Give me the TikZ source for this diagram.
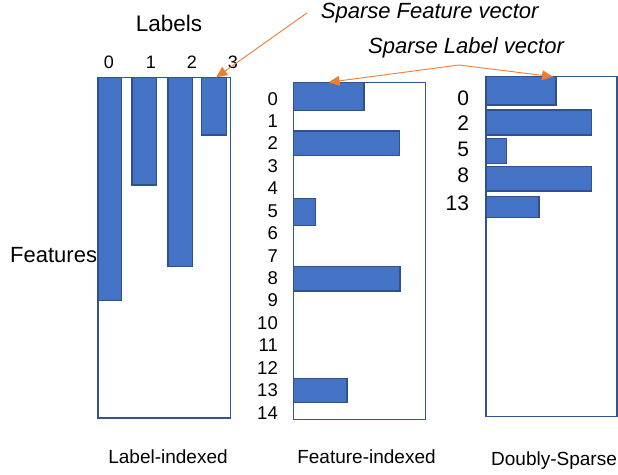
\documentclass[tikz,border=0pt]{standalone}
\usepackage{fontspec}
\setmainfont{Liberation Sans}
\usepackage{tikz}
\usetikzlibrary{arrows.meta}
\usepackage{xcolor}
\definecolor{barblue}{HTML}{4472C4}
\definecolor{baredge}{HTML}{2F528F}
\definecolor{frameblue}{HTML}{2F5597}
\definecolor{ptr}{HTML}{ED7D31}

\begin{document}
\begin{tikzpicture}[x=1pt,y=-1pt,
  bar/.style={draw=baredge,fill=barblue,line width=1.2pt,inner sep=0pt,outer sep=0pt,anchor=north west},
  frame/.style={draw=frameblue,line width=1.2pt},
  txt/.style={inner sep=0pt,anchor=base,font=\fontsize{#1}{#1}\selectfont},
  txt/.default=18,
  pointer/.style={draw=ptr,line width=0.9pt,-{Triangle[length=11pt,width=10pt]}}
  ]
\useasboundingbox (0,0) rectangle (618,474);
\def\rowh{22.43}
% the three containers
\draw[frame] (98,77.3) rectangle (230.7,418);
\draw[frame] (293.3,82.3) rectangle (425.7,419.3);
\draw[frame] (486,76.7) rectangle (617,416.7);
% bars: name/x/y/width/height
\foreach \n/\x/\y/\w/\h in {L0/98/77.3/23.3/223.4, L1/132/77.3/24.7/107.7,
    L2/168/77.3/24.3/189.4, L3/201.7/77.3/25/57.7,
    M0/293.3/82.3/70.7/28.4, M2/293.3/131/106.4/24.7, M5/293.3/198.3/22/27,
    M8/293.3/266.7/106.7/24.3, M13/293.3/378.7/53.7/23.6,
    R0/486/76.7/70/28.3, R2/486/110/105.7/25, R5/486/138.3/20.7/25,
    R8/486/166.7/105.7/24.3, R13/486/196.7/53/21}
  \node[bar,minimum width=\w pt,minimum height=\h pt] (\n) at (\x,\y) {};
% texts
\node[txt=22.5] (labels) at (169,31.7) {Labels};
\foreach \i/\x in {0/109,1/151,2/192,3/233}
  \node[txt] (c\i) at (\x,68.3) {\i};
\node[txt=22,anchor=base west] (features) at (10,262) {Features};
\foreach \i in {0,...,14}
  \node[txt=18.5,anchor=base east] (m\i) at (278,{105+\i*\rowh}) {\i};
\foreach \i/\y in {0/105,2/130,5/156.7,8/182.7,13/210}
  \node[txt=21,anchor=base east] (r\i) at (469.3,\y) {\i};
\node[txt=22,anchor=base west] (sfv) at (320.7,18.3) {\itshape Sparse Feature vector};
\node[txt=22,anchor=base west] (slv) at (368,53) {\itshape Sparse Label vector};
\node[txt=19] (li) at (168,463.3) {Label-indexed};
\node[txt=19] (fi) at (366.5,463.3) {Feature-indexed};
\node[txt=19] (ds) at (554,465) {Doubly-Sparse};
% pointers
\coordinate (fork) at (459,65);
\draw[pointer] ([xshift=-13.7pt]sfv.west) -- ([xshift=2pt]L3.north);
\draw[pointer] (fork) -- (M0.north);
\draw[pointer] (fork) -- ([xshift=-3pt]R0.north east);
\end{tikzpicture}
\end{document}
